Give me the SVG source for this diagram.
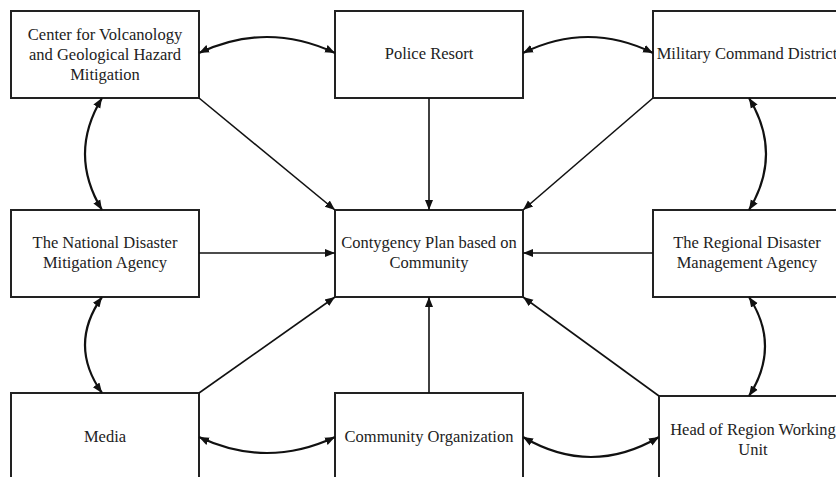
<svg xmlns="http://www.w3.org/2000/svg" width="836" height="477" viewBox="0 0 836 477">
<style>
.box{fill:#fff;stroke:#222;stroke-width:2}
.t{font-family:"Liberation Serif","Times New Roman",serif;font-size:16.5px;fill:#222;text-anchor:middle}
.ln{fill:none;stroke:#111;stroke-width:1.6}
.cv{fill:none;stroke:#111;stroke-width:2.2}
</style>
<defs>
<marker id="ah" viewBox="0 0 10 10" refX="10" refY="5" markerWidth="10" markerHeight="10" markerUnits="userSpaceOnUse" orient="auto-start-reverse">
<path d="M0,1 L10,5 L0,9 Z" fill="#111"/>
</marker>
</defs>
<rect width="836" height="477" fill="#fff"/>
<g id="pvmbg"><rect class="box" x="11" y="11" width="188" height="87"/><text class="t" x="105" y="40">Center for Volcanology</text><text class="t" x="105" y="60">and Geological Hazard</text><text class="t" x="105" y="80">Mitigation</text></g>
<g id="police"><rect class="box" x="335" y="11" width="188" height="87"/><text class="t" x="429" y="59">Police Resort</text></g>
<g id="military"><rect class="box" x="653" y="11" width="200" height="87"/><text class="t" x="747" y="59">Military Command District</text></g>
<g id="national"><rect class="box" x="11" y="210" width="188" height="87"/><text class="t" x="105" y="248">The National Disaster</text><text class="t" x="105" y="268">Mitigation Agency</text></g>
<g id="plan"><rect class="box" x="335" y="210" width="188" height="87"/><text class="t" x="429" y="248">Contygency Plan based on</text><text class="t" x="429" y="268">Community</text></g>
<g id="regional"><rect class="box" x="653" y="210" width="200" height="87"/><text class="t" x="747" y="248">The Regional Disaster</text><text class="t" x="747" y="268">Management Agency</text></g>
<g id="media"><rect class="box" x="11" y="393" width="188" height="100"/><text class="t" x="105" y="442">Media</text></g>
<g id="community"><rect class="box" x="335" y="393" width="188" height="100"/><text class="t" x="429" y="442">Community Organization</text></g>
<g id="head"><rect class="box" x="659" y="396" width="200" height="100"/><text class="t" x="753" y="435">Head of Region Working</text><text class="t" x="753" y="455">Unit</text></g>
<g id="connectors">
<line class="ln" x1="199" y1="98" x2="335" y2="210" marker-end="url(#ah)"/>
<line class="ln" x1="429" y1="98" x2="429" y2="210" marker-end="url(#ah)"/>
<line class="ln" x1="653" y1="98" x2="523" y2="210" marker-end="url(#ah)"/>
<line class="ln" x1="199" y1="253" x2="335" y2="253" marker-end="url(#ah)"/>
<line class="ln" x1="653" y1="253" x2="523" y2="253" marker-end="url(#ah)"/>
<line class="ln" x1="199" y1="393" x2="335" y2="297" marker-end="url(#ah)"/>
<line class="ln" x1="429" y1="393" x2="429" y2="297" marker-end="url(#ah)"/>
<line class="ln" x1="659" y1="396" x2="523" y2="297" marker-end="url(#ah)"/>
<path class="cv" d="M199,53 Q267,21 335,53" marker-start="url(#ah)" marker-end="url(#ah)"/>
<path class="cv" d="M523,53 Q588,21 653,53" marker-start="url(#ah)" marker-end="url(#ah)"/>
<path class="cv" d="M102,98 Q68,154 102,210" marker-start="url(#ah)" marker-end="url(#ah)"/>
<path class="cv" d="M102,297 Q68,345 102,393" marker-start="url(#ah)" marker-end="url(#ah)"/>
<path class="cv" d="M749,98 Q783,154 749,210" marker-start="url(#ah)" marker-end="url(#ah)"/>
<path class="cv" d="M749,297 Q781,346 749,396" marker-start="url(#ah)" marker-end="url(#ah)"/>
<path class="cv" d="M199,437 Q267,469 335,437" marker-start="url(#ah)" marker-end="url(#ah)"/>
<path class="cv" d="M523,437 Q591,477 659,437" marker-start="url(#ah)" marker-end="url(#ah)"/>
</g>
</svg>
